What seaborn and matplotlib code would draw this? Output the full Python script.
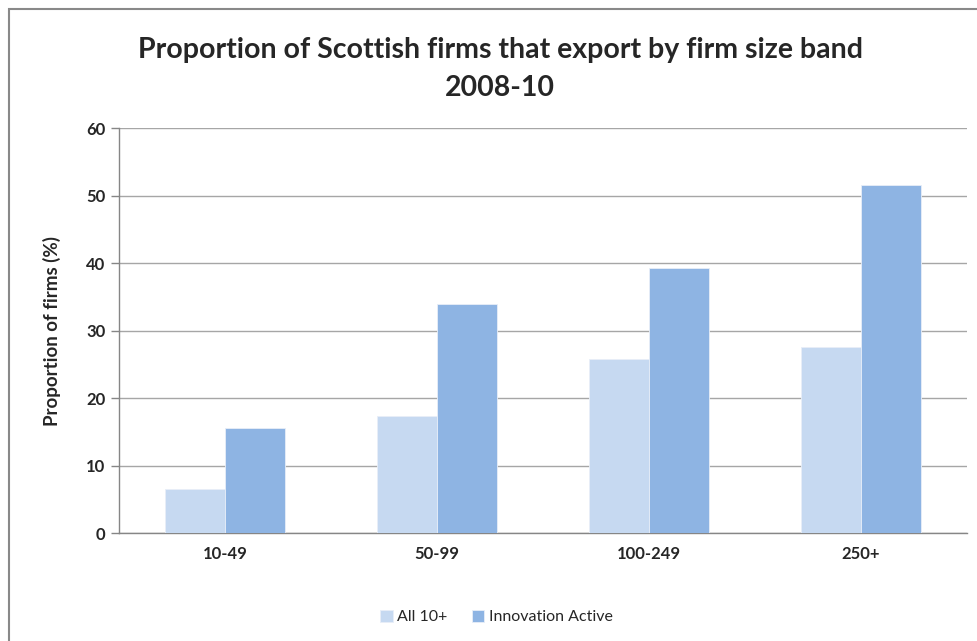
import matplotlib
matplotlib.use("Agg")
import matplotlib.pyplot as plt
import seaborn as sns
import pandas as pd
from matplotlib.patches import Rectangle

bands = ["10-49", "50-99", "100-249", "250+"]
all_10 = [6.6, 17.4, 25.8, 27.6]
innov = [15.6, 33.9, 39.3, 51.5]
series_names = ["All 10+", "Innovation Active"]
yticks = [0, 10, 20, 30, 40, 50, 60]

df = pd.DataFrame({
    "band": bands * 2,
    "value": all_10 + innov,
    "series": [series_names[0]] * 4 + [series_names[1]] * 4,
})

sns.set_theme(style="white")
plt.rcParams["font.family"] = ["Lato", "DejaVu Sans"]

fig = plt.figure(figsize=(9.77, 6.41), dpi=100)
ax = fig.add_axes([0.1221, 0.1682, 0.8677, 0.6321])

sns.barplot(data=df, x="band", y="value", hue="series", order=bands,
            hue_order=series_names, palette=["#C6D9F1", "#8EB4E3"],
            width=0.566, saturation=1, edgecolor="#E8EEF8", linewidth=0.6,
            ax=ax, zorder=3)

ax.set_ylim(0, 60)
ax.set_xlim(-0.5, 3.5)
ax.set_yticks(yticks)
ax.set_yticklabels([str(v) for v in yticks], fontweight="bold", fontsize=12)
ax.set_xticks(range(len(bands)))
ax.set_xticklabels(bands, fontweight="bold", fontsize=12)
ax.tick_params(axis="x", which="major", length=0, pad=9)
ax.set_xticks([-0.5, 0.5, 1.5, 2.5, 3.5], minor=True)
ax.tick_params(axis="x", which="minor", length=6, color="#868686", width=1, direction="out")
ax.tick_params(axis="y", length=6, color="#868686", width=1, direction="out", pad=4, left=True)
ax.yaxis.grid(True, color="#A6A6A6", linewidth=1)
ax.set_axisbelow(True)
for s in ["top", "right"]:
    ax.spines[s].set_visible(False)
for s in ["left", "bottom"]:
    ax.spines[s].set_color("#868686")
    ax.spines[s].set_linewidth(1)
ax.set_xlabel("")
ax.set_ylabel("Proportion of firms (%)", fontweight="bold", fontsize=13.5, labelpad=18)

leg = ax.legend(loc="center", bbox_to_anchor=(0.445, -0.207), ncol=2,
                frameon=False, fontsize=11.5, handlelength=0.8, handleheight=0.8,
                handletextpad=0.3, columnspacing=1.5)

fig.text(0.512, 0.892, "Proportion of Scottish firms that export by firm size band\n2008-10",
         ha="center", va="center", fontsize=20.5, fontweight="bold", linespacing=1.55)

fig.patches.append(Rectangle((9 / 977, -0.1), 1.2, 1 - 9 / 641 + 0.1,
                             transform=fig.transFigure, fill=False,
                             edgecolor="#898989", linewidth=1.5))

fig.savefig("out.png", dpi=100)
